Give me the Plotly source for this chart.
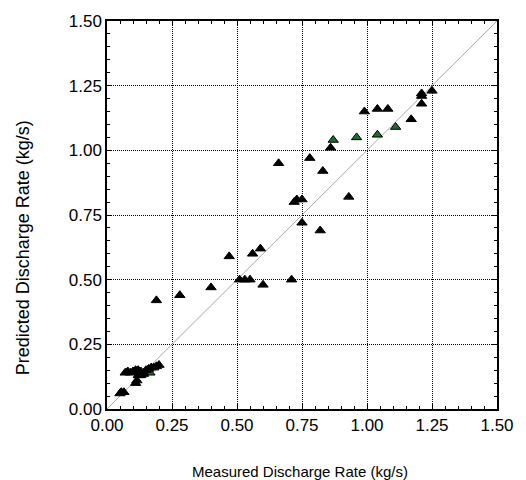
import plotly.graph_objects as go

# Black triangles: measured vs predicted discharge rate (kg/s)
measured_black = [
    0.05, 0.055, 0.065,
    0.07, 0.08, 0.09, 0.10, 0.11, 0.12, 0.13, 0.14, 0.15, 0.16, 0.17, 0.18, 0.19, 0.20,
    0.11, 0.115, 0.12, 0.13, 0.14,
    0.19, 0.28, 0.40, 0.47, 0.51, 0.53, 0.55, 0.56, 0.59, 0.60,
    0.66, 0.71, 0.72, 0.73, 0.75, 0.75, 0.78, 0.82, 0.83, 0.86, 0.93,
    0.99, 1.04, 1.08, 1.17, 1.21, 1.21, 1.21, 1.25,
]
predicted_black = [
    0.06, 0.065, 0.065,
    0.14, 0.145, 0.14, 0.145, 0.15, 0.15, 0.145, 0.14, 0.15, 0.155, 0.16, 0.16, 0.165, 0.17,
    0.10, 0.11, 0.13, 0.13, 0.135,
    0.42, 0.44, 0.47, 0.59, 0.50, 0.50, 0.50, 0.60, 0.62, 0.48,
    0.95, 0.50, 0.80, 0.81, 0.81, 0.72, 0.97, 0.69, 0.92, 1.01, 0.82,
    1.15, 1.16, 1.16, 1.12, 1.22, 1.21, 1.18, 1.23,
]

# Green triangles
measured_green = [0.165, 0.87, 0.96, 1.04, 1.11]
predicted_green = [0.14, 1.04, 1.05, 1.06, 1.09]

# Line of perfect agreement
line_x = [0.0, 1.5]
line_y = [0.0, 1.5]

tick_vals = [0.0, 0.25, 0.5, 0.75, 1.0, 1.25, 1.5]
tick_text = ["0.00", "0.25", "0.50", "0.75", "1.00", "1.25", "1.50"]

x_title = "Measured Discharge Rate (kg/s)"
y_title = "Predicted Discharge Rate (kg/s)"

FONT = "Liberation Sans, Arial, sans-serif"

fig = go.Figure()
fig.add_trace(go.Scatter(
    x=line_x, y=line_y, mode="lines",
    line=dict(color="#a8a8a8", width=1), hoverinfo="skip", showlegend=False,
))
fig.add_trace(go.Scatter(
    x=measured_green, y=predicted_green, mode="markers",
    marker=dict(symbol="triangle-up", size=9, color="#1f6b2e",
                line=dict(color="black", width=1)),
    showlegend=False,
))
fig.add_trace(go.Scatter(
    x=measured_black, y=predicted_black, mode="markers",
    marker=dict(symbol="triangle-up", size=9, color="black",
                line=dict(color="black", width=1)),
    showlegend=False,
))

axis_common = dict(
    range=[0, 1.5], tickmode="array", tickvals=tick_vals, ticktext=tick_text,
    showline=True, linecolor="black", linewidth=1.5, mirror="allticks",
    ticks="inside", ticklen=5, tickcolor="black", tickwidth=1,
    minor=dict(dtick=0.05, ticks="inside", ticklen=3, tickcolor="black",
               showgrid=False),
    showgrid=True, gridcolor="black", gridwidth=1, griddash="1px,1px",
    zeroline=False, tickfont=dict(family=FONT, size=17, color="black"),
)

fig.update_xaxes(**axis_common)
fig.update_yaxes(**axis_common)

fig.add_annotation(
    text=x_title, xref="paper", yref="paper", x=0.495, y=0,
    xanchor="center", yanchor="middle", yshift=-62, showarrow=False,
    font=dict(family=FONT, size=15, color="black"),
)
fig.add_annotation(
    text=y_title, xref="paper", yref="paper", x=0, y=0.414,
    xanchor="center", yanchor="middle", xshift=-84, textangle=-90,
    showarrow=False, font=dict(family=FONT, size=18, color="black"),
)

fig.update_layout(
    width=526, height=480,
    margin=dict(l=107, r=24, t=14, b=71),
    paper_bgcolor="white", plot_bgcolor="white",
    font=dict(family=FONT, color="black"),
)

fig.write_html("out.html", config={"displayModeBar": False},
               post_script="document.body.style.margin='0';")
